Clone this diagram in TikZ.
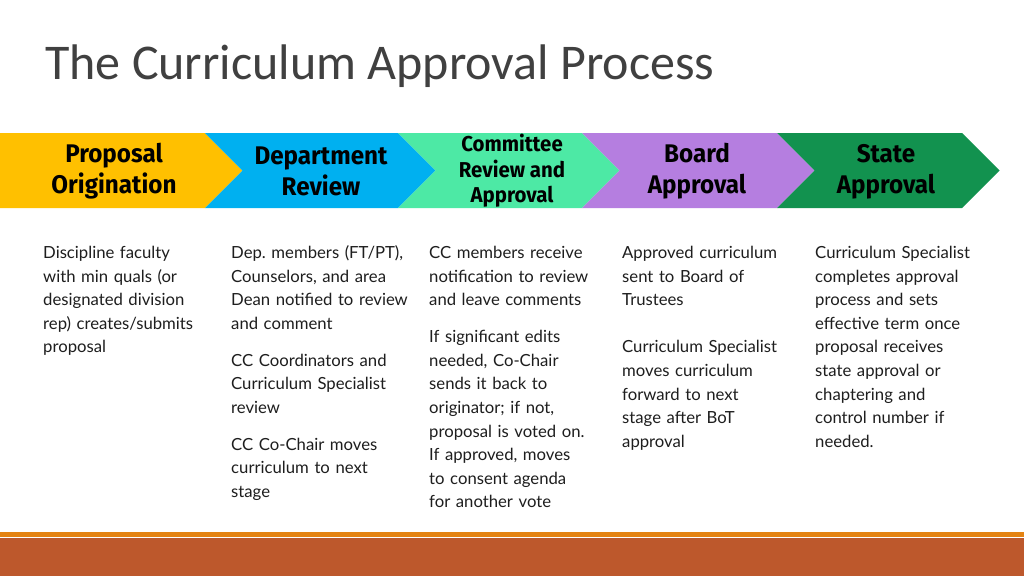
\documentclass[tikz,border=0pt]{standalone}
\usepackage{fontspec}
\setmainfont{Lato}
\newfontfamily\titlefont{Carlito}
\newfontfamily\headfont{Fira Sans}[FakeStretch=0.95]
\usetikzlibrary{positioning}
\definecolor{cYellow}{HTML}{FFC000}
\definecolor{cBlue}{HTML}{00B0F0}
\definecolor{cMint}{HTML}{4DE9A5}
\definecolor{cPurple}{HTML}{B57EE0}
\definecolor{cDGreen}{HTML}{12924F}
\definecolor{cTitle}{HTML}{404040}
\definecolor{cBody}{HTML}{1E1E1E}
\definecolor{cOrange}{HTML}{E48312}
\definecolor{cRust}{HTML}{BD582C}
\tikzset{
  headlbl/.style={font=\headfont\bfseries\fontsize{25.5}{31}\selectfont, text=black, align=center, inner sep=0pt},
  headsmall/.style={font=\headfont\bfseries\fontsize{21.5}{25.5}\selectfont, text=black, align=center, inner sep=0pt},
  bodytxt/.style={font=\fontsize{16.7}{23.6}\selectfont, text=cBody, align=left, anchor=base west, inner sep=0pt, text width=190pt},
}
\frenchspacing
\begin{document}
\begin{tikzpicture}[x=1pt,y=-1pt]
\useasboundingbox (0,0) rectangle (1024,576);
\fill[white] (0,0) rectangle (1024,576);
% title
\node[anchor=base west, inner sep=0pt, text=cTitle, font=\titlefont\fontsize{50}{58}\selectfont] (title) at (45,79.5) {The Curriculum Approval Process};
% chevrons
\def\tp{133}\def\bt{208}\def\md{170.5}\def\dd{37.5}
\fill[cYellow] (0,\tp) -- (205,\tp) -- (205+\dd,\md) -- (205,\bt) -- (0,\bt) -- cycle;
\fill[cBlue] (205,\tp) -- (398,\tp) -- (398+\dd,\md) -- (398,\bt) -- (205,\bt) -- (205+\dd,\md) -- cycle;
\fill[cMint] (398,\tp) -- (582,\tp) -- (582+\dd,\md) -- (582,\bt) -- (398,\bt) -- (398+\dd,\md) -- cycle;
\fill[cPurple] (582,\tp) -- (777,\tp) -- (777+\dd,\md) -- (777,\bt) -- (582,\bt) -- (582+\dd,\md) -- cycle;
\fill[cDGreen] (777,\tp) -- (962,\tp) -- (962+\dd,\md) -- (962,\bt) -- (777,\bt) -- (777+\dd,\md) -- cycle;
% chevron labels
\node[headlbl] (h1) at (114,171.5) {Proposal\\Origination};
\node[headlbl] (h2) at (321,171.5) {Department\\Review};
\node[headsmall] (h3) at (512,171) {Committee\\Review and\\Approval};
\node[headlbl] (h4) at (697,171.5) {Board\\Approval};
\node[headlbl] (h5) at (886,171.5) {State\\Approval};
% body texts
\node[bodytxt] (t1) at (43,258.5) {Discipline faculty\\with min quals (or\\designated division\\rep) creates/submits\\proposal};
\node[bodytxt] (t2) at (231,258.5) {Dep. members (FT/PT),\\Counselors, and area\\Dean notified to review\\and comment\\[13.3pt]CC Coordinators and\\Curriculum Specialist\\review\\[13.3pt]CC Co-Chair moves\\curriculum to next\\stage};
\node[bodytxt] (t3) at (429,258.5) {CC members receive\\notification to review\\and leave comments\\[13.3pt]If significant edits\\needed, Co-Chair\\sends it back to\\originator; if not,\\proposal is voted on.\\If approved, moves\\to consent agenda\\for another vote};
\node[bodytxt] (t4) at (622,258.5) {Approved curriculum\\sent to Board of\\Trustees\\[23.6pt]Curriculum Specialist\\moves curriculum\\forward to next\\stage after BoT\\approval};
\node[bodytxt] (t5) at (815,258.5) {Curriculum Specialist\\completes approval\\process and sets\\effective term once\\proposal receives\\state approval or\\chaptering and\\control number if\\needed.};
% bottom bars
\fill[cOrange] (0,532) rectangle (1024,537);
\fill[cRust] (0,538) rectangle (1024,576);
\end{tikzpicture}
\end{document}
